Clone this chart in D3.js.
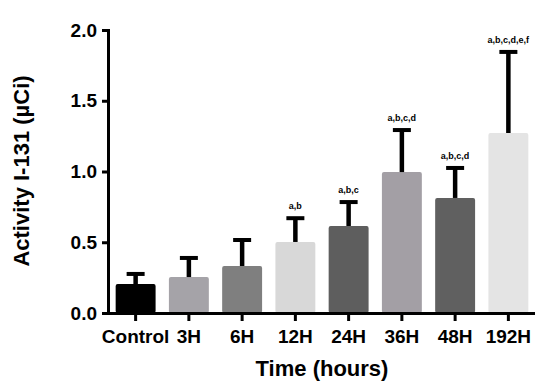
<!DOCTYPE html>
<html>
<head>
<meta charset="utf-8">
<script src="https://cdn.jsdelivr.net/npm/d3@7"></script>
<style>
  body { margin: 0; background: #fff; }
  text { font-family: "Liberation Sans", Arial, sans-serif; font-weight: bold; }
</style>
</head>
<body>
<script>
const groups = ['Control', '3H', '6H', '12H', '24H', '36H', '48H', '192H'];
const means = [0.205, 0.254, 0.332, 0.502, 0.615, 0.996, 0.813, 1.272];
const errors = [0.071, 0.135, 0.184, 0.168, 0.169, 0.297, 0.212, 0.573];
const letters = ['', '', '', 'a,b', 'a,b,c', 'a,b,c,d', 'a,b,c,d', 'a,b,c,d,e,f'];
const colors = ['#000000', '#a5a3a8', '#7f7f7f', '#d8d8d8', '#5e5e5e', '#a39fa5', '#606060', '#e4e4e4'];
const yTicks = [0, 0.5, 1.0, 1.5, 2.0];

const width = 550;
const height = 390;

const svg = d3.select('body')
  .append('svg')
  .attr('width', width)
  .attr('height', height);

const x = d3.scaleBand()
  .domain(groups)
  .range([109, 535])
  .paddingInner(0.25)
  .paddingOuter(0.125);

const y = d3.scaleLinear()
  .domain([0, 2])
  .range([313, 30]);

// bars
svg.selectAll('rect.bar')
  .data(groups)
  .enter()
  .append('rect')
  .attr('class', 'bar')
  .attr('x', d => x(d))
  .attr('width', x.bandwidth())
  .attr('y', (d, i) => y(means[i]))
  .attr('height', (d, i) => y(0) - y(means[i]))
  .attr('rx', 2)
  .attr('fill', (d, i) => colors[i]);

// error bars (upper only)
const err = svg.selectAll('g.err')
  .data(groups)
  .enter()
  .append('g')
  .attr('class', 'err');

err.append('line')
  .attr('x1', d => x(d) + x.bandwidth() / 2)
  .attr('x2', d => x(d) + x.bandwidth() / 2)
  .attr('y1', (d, i) => y(means[i]))
  .attr('y2', (d, i) => y(means[i] + errors[i]))
  .attr('stroke', '#000')
  .attr('stroke-width', 4.5);

err.append('line')
  .attr('x1', d => x(d) + x.bandwidth() / 2 - 9)
  .attr('x2', d => x(d) + x.bandwidth() / 2 + 9)
  .attr('y1', (d, i) => y(means[i] + errors[i]))
  .attr('y2', (d, i) => y(means[i] + errors[i]))
  .attr('stroke', '#000')
  .attr('stroke-width', 4);

err.append('text')
  .attr('x', d => x(d) + x.bandwidth() / 2)
  .attr('y', (d, i) => y(means[i] + errors[i]) - 9)
  .attr('text-anchor', 'middle')
  .style('font-size', '9px')
  .text((d, i) => letters[i]);

// axes
const yAxis = svg.append('g')
  .attr('transform', 'translate(108,0)')
  .call(d3.axisLeft(y).tickValues(yTicks).tickFormat(d3.format('.1f')).tickSize(6).tickPadding(5));

const xAxis = svg.append('g')
  .attr('transform', 'translate(0,313)')
  .call(d3.axisBottom(x).tickSize(8).tickPadding(9).tickSizeOuter(0));

[yAxis, xAxis].forEach(g => {
  g.select('.domain').attr('stroke', '#000').attr('stroke-width', 3);
  g.selectAll('.tick line').attr('stroke', '#000').attr('stroke-width', 3);
  g.selectAll('.tick text')
    .attr('fill', '#000')
    .style('font-family', '"Liberation Sans", Arial, sans-serif')
    .style('font-weight', 'bold')
    .style('font-size', '19px');
});

yAxis.select('.domain').attr('d', 'M-6,313.5H0.5V30.5H-6');
xAxis.select('.domain').attr('d', 'M106.5,0.5H535');

// titles
svg.append('text')
  .attr('transform', 'translate(29,171) rotate(-90)')
  .attr('text-anchor', 'middle')
  .style('font-size', '22px')
  .text('Activity I-131 (µCi)');

svg.append('text')
  .attr('x', 322)
  .attr('y', 376)
  .attr('text-anchor', 'middle')
  .style('font-size', '22px')
  .text('Time (hours)');
</script>
</body>
</html>
